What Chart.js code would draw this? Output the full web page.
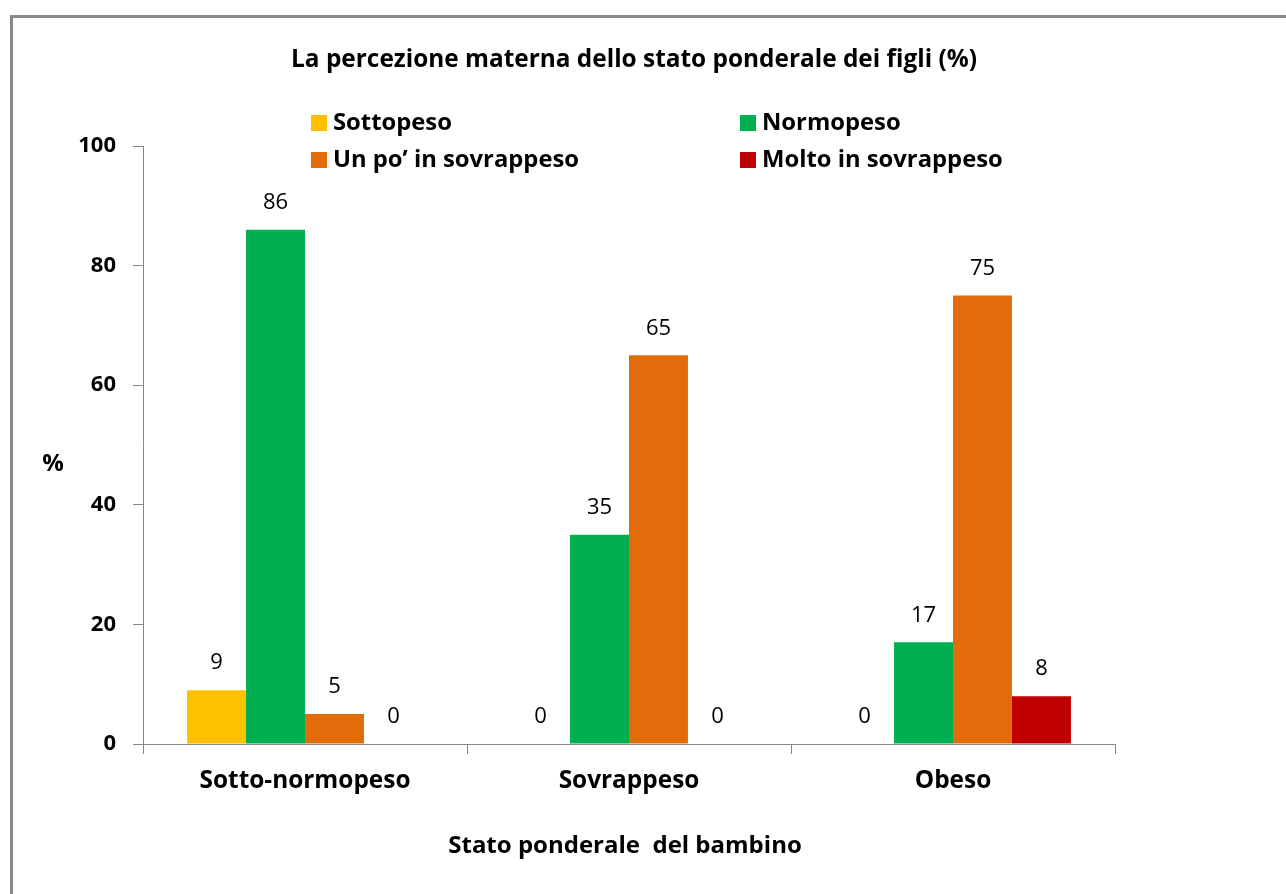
<!DOCTYPE html>
<html>
<head>
<meta charset="utf-8">
<script src="https://cdn.jsdelivr.net/npm/chart.js@4.4.1/dist/chart.umd.min.js"></script>
<style>
  body { margin: 0; background: #fff; }
  #wrap { position: relative; width: 1286px; height: 894px; overflow: hidden; }
  #frame { position: absolute; left: 10px; top: 15px; width: 1300px; height: 900px;
           border-left: 3px solid #8a8a8a; border-top: 3px solid #8a8a8a; }
  #chart { position: absolute; left: 0; top: 0; }
</style>
</head>
<body>
<div id="wrap">
  <div id="frame"></div>
  <canvas id="chart" width="1286" height="894"></canvas>
</div>
<script>
const categories = ['Sotto-normopeso', 'Sovrappeso', 'Obeso'];
const seriesNames = ['Sottopeso', 'Normopeso', 'Un po\u2019 in sovrappeso', 'Molto in sovrappeso'];
const sottopeso = [9, 0, 0];
const normopeso = [86, 35, 17];
const unPoSovrappeso = [5, 65, 75];
const moltoSovrappeso = [0, 0, 8];
const seriesColors = ['#FFC000', '#00B050', '#E36C0A', '#C00000'];
const yTicks = [0, 20, 40, 60, 80, 100];

const chartTitle = 'La percezione materna dello stato ponderale dei figli (%)';
const xTitle = 'Stato ponderale  del bambino';
const yTitle = '%';

const FONT = '"Open Sans", Lato, sans-serif';
const axisGray = '#868686';

const extras = {
  id: 'extras',
  afterDraw(chart) {
    const ctx = chart.ctx;
    ctx.save();
    ctx.fillStyle = '#000';

    // title
    ctx.font = `bold 24.4px ${FONT}`;
    ctx.textAlign = 'center';
    ctx.textBaseline = 'middle';
    ctx.fillText(chartTitle, 634, 60);

    // legend in two columns
    ctx.font = `bold 23.8px ${FONT}`;
    const cols = [311, 740];
    const rows = [123, 160];
    chart.data.datasets.forEach((ds, i) => {
      const x = cols[i % 2];
      const y = rows[Math.floor(i / 2)];
      ctx.fillStyle = ds.backgroundColor;
      ctx.fillRect(x, y - 8, 16, 16);
      ctx.fillStyle = '#000';
      ctx.textAlign = 'left';
      ctx.fillText(ds.label, x + 22, y);
    });

    // axis titles
    ctx.font = `bold 24px ${FONT}`;
    ctx.textAlign = 'center';
    ctx.fillText(yTitle, 53, 464);
    ctx.fillText(xTitle, 625, 846);

    // data labels
    ctx.font = `22px ${FONT}`;
    chart.data.datasets.forEach((ds, i) => {
      const meta = chart.getDatasetMeta(i);
      meta.data.forEach((bar, j) => {
        ctx.fillText(String(ds.data[j]), bar.x, bar.y - 27);
      });
    });
    ctx.restore();
  }
};

const datasets = [sottopeso, normopeso, unPoSovrappeso, moltoSovrappeso].map((data, i) => ({
  label: seriesNames[i],
  data: data,
  backgroundColor: seriesColors[i],
  borderWidth: 0,
  barPercentage: 1,
  categoryPercentage: 0.728
}));

new Chart(document.getElementById('chart'), {
  type: 'bar',
  data: { labels: categories, datasets: datasets },
  options: {
    responsive: false,
    animation: false,
    layout: { padding: { top: 146, right: 171, left: 0, bottom: 0 } },
    plugins: {
      legend: { display: false },
      title: { display: false },
      tooltip: { enabled: false }
    },
    scales: {
      x: {
        grid: { drawOnChartArea: false, tickLength: 10, color: axisGray, offset: true },
        border: { color: axisGray },
        ticks: { color: '#000', font: { family: FONT, size: 24.4, weight: 'bold' }, padding: 12 },
        afterFit(scale) { scale.height = 150; }
      },
      y: {
        min: 0,
        max: 100,
        grid: { drawOnChartArea: false, tickLength: 10, color: axisGray },
        border: { color: axisGray },
        afterBuildTicks(scale) { scale.ticks = yTicks.map(v => ({ value: v })); },
        ticks: { color: '#000', font: { family: FONT, size: 22, weight: 'bold' }, padding: 17 },
        afterFit(scale) { scale.width = 143; }
      }
    }
  },
  plugins: [extras]
});
</script>
</body>
</html>
